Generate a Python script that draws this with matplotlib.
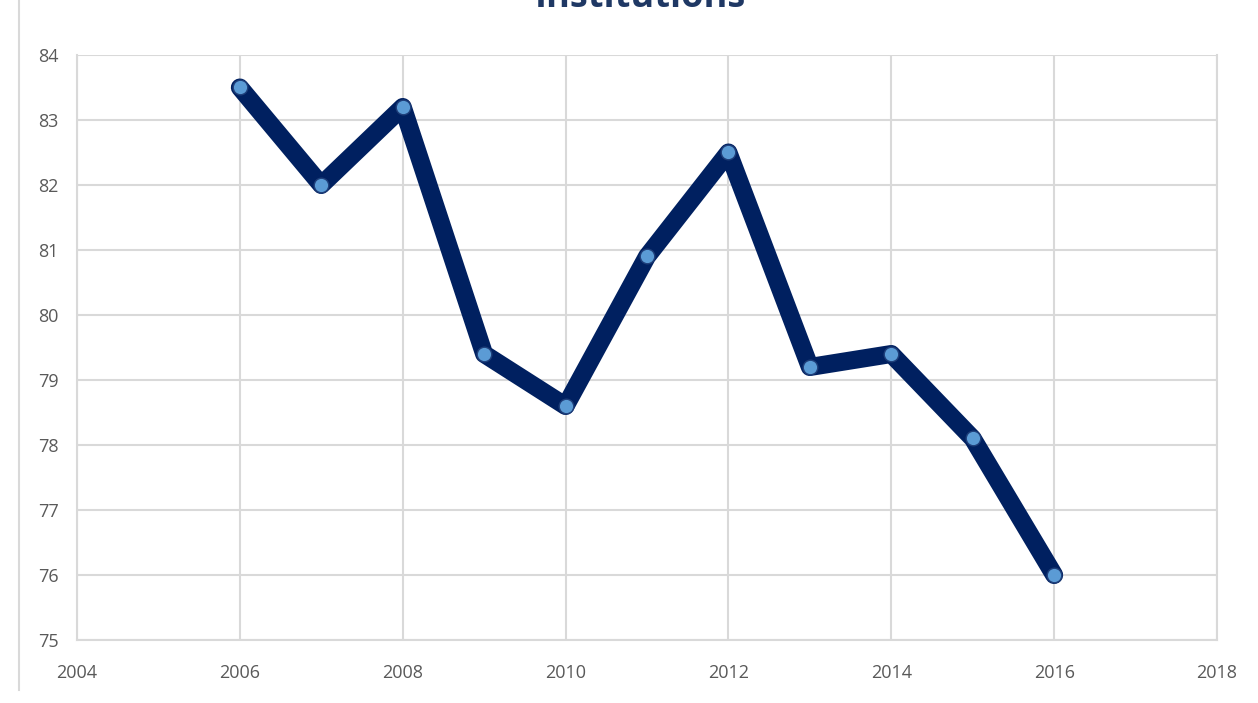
import matplotlib.pyplot as plt
from matplotlib.lines import Line2D

years = [2006, 2007, 2008, 2009, 2010, 2011, 2012, 2013, 2014, 2015, 2016]
scores = [83.5, 82.0, 83.2, 79.4, 78.6, 80.9, 82.5, 79.2, 79.4, 78.1, 76.0]
xticks = [2004, 2006, 2008, 2010, 2012, 2014, 2016, 2018]
yticks = [75, 76, 77, 78, 79, 80, 81, 82, 83, 84]

plt.rcParams['font.family'] = ['Open Sans', 'DejaVu Sans']

fig = plt.figure(figsize=(12.58, 7.03), dpi=100)
ax = fig.add_axes([77/1258, 1 - 640/703, (1217-77)/1258, (640-55)/703])

ax.plot(years, scores, color="#002060", linewidth=13, solid_capstyle="round",
        solid_joinstyle="round", zorder=3)
ax.plot(years, scores, linestyle="none", marker="o", markersize=10.5,
        markerfacecolor="#5B9BD5", markeredgecolor="#1F3F7A", markeredgewidth=1, zorder=4)

ax.set_xlim(2004, 2018)
ax.set_ylim(75, 84)
ax.set_xticks(xticks)
ax.set_yticks(yticks)
ax.grid(True, color="#D9D9D9", linewidth=1.5)
ax.set_axisbelow(True)
for s in ax.spines.values():
    s.set_color("#D9D9D9")
    s.set_linewidth(1.5)
ax.spines['top'].set_visible(False)
ax.tick_params(length=0, labelsize=13, colors="#595959")
ax.tick_params(axis='y', pad=13)
ax.tick_params(axis='x', pad=17)

fig.text(640/1258, 1 - 7/703, "Institutions", ha="center", va="baseline",
         fontsize=26, fontweight="bold", color="#1F3864")
fig.add_artist(Line2D([19/1258, 19/1258], [1 - 690/703, 1], color="#D9D9D9", linewidth=1.5))

fig.savefig("out.png", dpi=100)
